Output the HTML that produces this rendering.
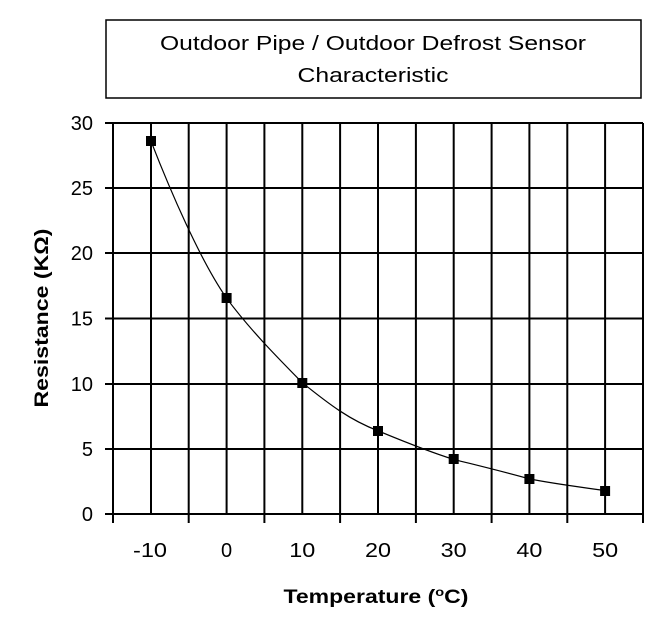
<!DOCTYPE html>
<html><head><meta charset="utf-8"><style>html,body{margin:0;padding:0;background:#fff}svg{display:block}</style></head>
<body>
<svg width="651" height="627" viewBox="0 0 651 627" xmlns="http://www.w3.org/2000/svg" font-family="Liberation Sans, Arial, sans-serif">
<rect x="106" y="20" width="535" height="78" fill="#fff" stroke="#000" stroke-width="1.5"/>
<text x="373" y="50" font-size="20" text-anchor="middle" textLength="426" lengthAdjust="spacingAndGlyphs">Outdoor Pipe / Outdoor Defrost Sensor</text>
<text x="373" y="82" font-size="20" text-anchor="middle" textLength="151" lengthAdjust="spacingAndGlyphs">Characteristic</text>
<g stroke="#000" stroke-width="2">
<line x1="105" y1="123" x2="643" y2="123"/>
<line x1="105" y1="188" x2="643" y2="188"/>
<line x1="105" y1="253" x2="643" y2="253"/>
<line x1="105" y1="318.5" x2="643" y2="318.5"/>
<line x1="105" y1="384" x2="643" y2="384"/>
<line x1="105" y1="449" x2="643" y2="449"/>
<line x1="105" y1="514" x2="643" y2="514"/>
<line x1="113" y1="123" x2="113" y2="523"/>
<line x1="151" y1="123" x2="151" y2="514"/>
<line x1="188.7" y1="123" x2="188.7" y2="523"/>
<line x1="226.6" y1="123" x2="226.6" y2="514"/>
<line x1="264.4" y1="123" x2="264.4" y2="523"/>
<line x1="302.3" y1="123" x2="302.3" y2="514"/>
<line x1="340.1" y1="123" x2="340.1" y2="523"/>
<line x1="378" y1="123" x2="378" y2="514"/>
<line x1="415.9" y1="123" x2="415.9" y2="523"/>
<line x1="453.7" y1="123" x2="453.7" y2="514"/>
<line x1="491.6" y1="123" x2="491.6" y2="523"/>
<line x1="529.4" y1="123" x2="529.4" y2="514"/>
<line x1="567.3" y1="123" x2="567.3" y2="523"/>
<line x1="605.1" y1="123" x2="605.1" y2="514"/>
<line x1="643" y1="123" x2="643" y2="523"/>
</g>
<path d="M151,141.2 C170,190 200,260 226.6,298.2 C250,330 280,360 302.3,382.7 C330,405 350,420 378,430.8 C405,442 430,452 453.7,459.4 C480,466 505,472 529.4,478.9 C555,484 580,487 605.1,490.6" fill="none" stroke="#000" stroke-width="1.2"/>
<g fill="#000">
<rect x="146" y="136" width="10" height="10"/>
<rect x="221.6" y="293" width="10" height="10"/>
<rect x="297.3" y="378" width="10" height="10"/>
<rect x="373" y="426" width="10" height="10"/>
<rect x="448.7" y="454" width="10" height="10"/>
<rect x="524.4" y="474" width="10" height="10"/>
<rect x="600.1" y="486" width="10" height="10"/>
</g>
<g font-size="20" text-anchor="end">
<text x="93" y="130">30</text>
<text x="93" y="195">25</text>
<text x="93" y="260">20</text>
<text x="93" y="325.5">15</text>
<text x="93" y="391">10</text>
<text x="93" y="456">5</text>
<text x="93" y="521">0</text>
</g>
<g font-size="20" text-anchor="middle">
<text x="150" y="557" textLength="34" lengthAdjust="spacingAndGlyphs">-10</text>
<text x="226.6" y="557">0</text>
<text x="302.3" y="557" textLength="26" lengthAdjust="spacingAndGlyphs">10</text>
<text x="378" y="557" textLength="26" lengthAdjust="spacingAndGlyphs">20</text>
<text x="453.7" y="557" textLength="26" lengthAdjust="spacingAndGlyphs">30</text>
<text x="529.4" y="557" textLength="26" lengthAdjust="spacingAndGlyphs">40</text>
<text x="605.1" y="557" textLength="26" lengthAdjust="spacingAndGlyphs">50</text>
</g>
<text x="376" y="603" font-size="19" font-weight="bold" text-anchor="middle" textLength="185" lengthAdjust="spacingAndGlyphs">Temperature (<tspan baseline-shift="super" font-size="12">o</tspan>C)</text>
<text transform="translate(48,318) rotate(-90)" font-size="19" font-weight="bold" text-anchor="middle" textLength="179" lengthAdjust="spacingAndGlyphs">Resistance (KΩ)</text>
</svg>
</body></html>
